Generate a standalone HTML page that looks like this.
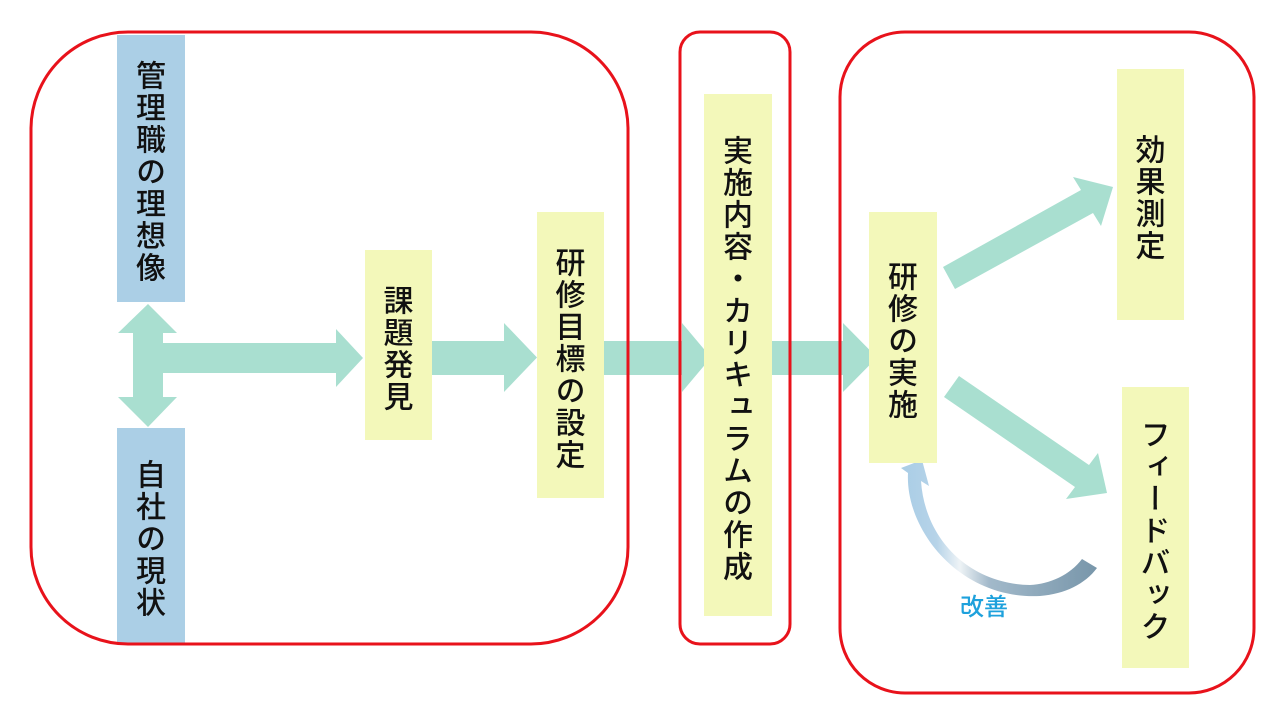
<!DOCTYPE html>
<html><head><meta charset="utf-8">
<style>
html,body{margin:0;padding:0;background:#fff;}
#c{position:relative;width:1280px;height:720px;overflow:hidden;background:#fff;font-family:"Liberation Sans","Noto Sans CJK JP",sans-serif;}
svg{position:absolute;left:0;top:0;}
.b{position:absolute;display:flex;align-items:center;justify-content:center;box-sizing:border-box;padding-right:8px;padding-top:7px;}
.y{background:#f3f8ba;}
.bl{background:#abcfe6;}
.t{writing-mode:vertical-rl;font-size:30px;letter-spacing:2px;line-height:1;color:#111;font-weight:500;white-space:nowrap;}
</style></head><body>
<div id="c">
<svg width="1280" height="720" viewBox="0 0 1280 720">
 <defs>
  <linearGradient id="g" x1="0" y1="0" x2="1" y2="0">
   <stop offset="0" stop-color="#a9cde6"/>
   <stop offset="0.18" stop-color="#b6d3e8"/>
   <stop offset="0.3" stop-color="#eef3f6"/>
   <stop offset="0.45" stop-color="#a2b9ca"/>
   <stop offset="1" stop-color="#7896aa"/>
  </linearGradient>
 </defs>
 <g fill="#a9dfd0">
  <polygon points="148,304 177,333 163,333 163,397 177,397 148,427 118,397 133,397 133,333 118,333"/>
  <polygon points="160,343 336,343 336,329 363,358 336,387 336,373 160,373"/>
  <polygon points="432,341 504,341 504,323 537,357.5 504,392 504,375 432,375"/>
  <polygon points="604,341 682,341 682,323 711,357.5 682,392 682,375 604,375"/>
  <polygon points="772,341 843,341 843,323 877,357.5 843,392 843,375 772,375"/>
  <polygon points="943,267 1081,190 1073,177 1113,187 1101,226 1093,213 955,289"/>
  <polygon points="959,376 1089,465 1098,453 1107,493 1066,499 1075,487 944,397"/>
 </g>
 <path d="M908 473 C905 530,960 600,1040 596 C1065 594,1085 584,1097 568 L1082 559 C1070 575,1050 584,1030 585 C970 584,925 540,921 481 L929 486 L922 460 L901 468 Z" fill="url(#g)"/>
</svg>

<div class="b bl" style="left:117px;top:35px;width:68px;height:267px;"><span class="t">管理職の理想像</span></div>
<div class="b bl" style="left:117px;top:428px;width:68px;height:215px;"><span class="t">自社の現状</span></div>
<div class="b y" style="left:365px;top:250px;width:67px;height:190px;"><span class="t">課題発見</span></div>
<div class="b y" style="left:537px;top:212px;width:67px;height:286px;"><span class="t">研修目標の設定</span></div>
<div class="b y" style="left:704px;top:94px;width:68px;height:522px;"><span class="t">実施内容・カリキュラムの作成</span></div>
<div class="b y" style="left:869px;top:212px;width:68px;height:251px;"><span class="t">研修の実施</span></div>
<div class="b y" style="left:1117px;top:69px;width:67px;height:251px;"><span class="t">効果測定</span></div>
<div class="b y" style="left:1122px;top:387px;width:67px;height:281px;"><span class="t">フィードバック</span></div>

<div style="position:absolute;left:960px;top:596px;font-size:24px;line-height:24px;color:#1ea1dc;font-weight:500;white-space:nowrap;">改善</div>

<svg width="1280" height="720" viewBox="0 0 1280 720" style="pointer-events:none">
 <g fill="none" stroke="#e8121b" stroke-width="3">
  <rect x="31" y="32" width="597" height="612" rx="97" ry="97"/>
  <rect x="680" y="32" width="110" height="612" rx="20" ry="20"/>
  <rect x="840" y="32" width="414" height="661" rx="65" ry="65"/>
 </g>
</svg>
</div>
</body></html>
